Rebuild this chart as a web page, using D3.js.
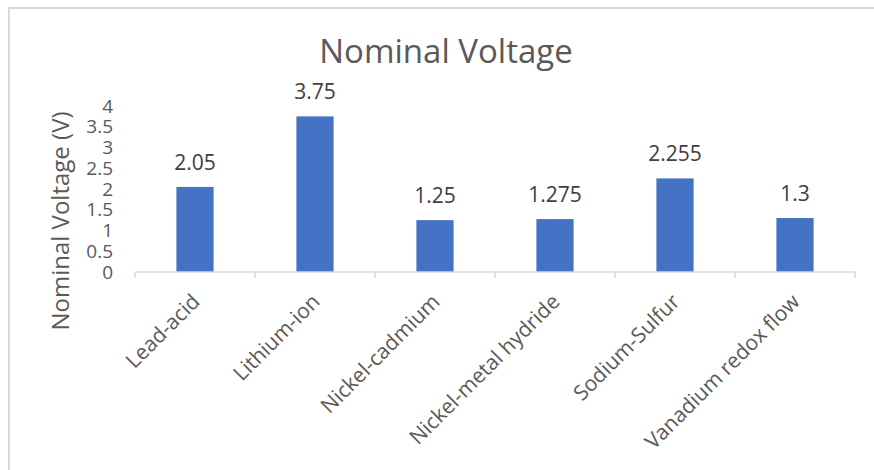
<!DOCTYPE html>
<html><head><meta charset="utf-8">
<script src="https://cdn.jsdelivr.net/npm/d3@7"></script>
<style>body{margin:0;background:#fff;} svg{display:block;font-family:"Open Sans",sans-serif;}</style>
</head><body>
<svg id="c" width="874" height="470"></svg>
<script>
const categories = ["Lead-acid","Lithium-ion","Nickel-cadmium","Nickel-metal hydride","Sodium-Sulfur","Vanadium redox flow"];
const values = [2.05, 3.75, 1.25, 1.275, 2.255, 1.3];
const valueLabels = ["2.05","3.75","1.25","1.275","2.255","1.3"];
const yTicks = [0,0.5,1,1.5,2,2.5,3,3.5,4];
const titleText = "Nominal Voltage";
const yTitle = "Nominal Voltage (V)";

const svg = d3.select("#c");
// outer border
svg.append("path").attr("d","M9,470 V8 H874").attr("fill","none").attr("stroke","#d9d9d9").attr("stroke-width",2);

const x = d3.scaleBand().domain(categories).range([135,855]).paddingInner(0.69).paddingOuter(0.345);
const y = d3.scaleLinear().domain([0,4]).range([272,106]);

svg.append("text").attr("x",446).attr("y",63).attr("text-anchor","middle")
  .attr("font-size",33).attr("fill","#595959").text(titleText);

// y axis labels
const yAxis = d3.axisLeft(y).tickValues(yTicks).tickSize(0).tickPadding(0).tickFormat(d=>String(d));
const ga = svg.append("g").attr("transform","translate(113,0)").call(yAxis);
ga.select(".domain").remove();
ga.selectAll("text").attr("font-size",19).attr("fill","#595959").attr("font-family","Open Sans");

svg.append("text").attr("transform","translate(69,221) rotate(-90)").attr("text-anchor","middle")
  .attr("font-size",24).attr("fill","#595959").text(yTitle);

// bars
svg.selectAll("rect.bar").data(values).join("rect").attr("class","bar")
  .attr("x",(d,i)=>x(categories[i])).attr("width",x.bandwidth())
  .attr("y",d=>y(d)).attr("height",d=>y(0)-y(d)).attr("fill","#4472c4");

// x axis
const xb = d3.scaleBand().domain(categories).range([135,855]);
const gx = svg.append("g").attr("transform","translate(0,272)");
gx.append("line").attr("x1",135).attr("x2",855).attr("y1",0).attr("y2",0).attr("stroke","#d9d9d9").attr("stroke-width",1.5);
const edges = categories.map(c=>xb(c)).concat([855]);
gx.selectAll("line.t").data(edges).join("line").attr("class","t")
  .attr("x1",d=>d).attr("x2",d=>d).attr("y1",0).attr("y2",6).attr("stroke","#d9d9d9").attr("stroke-width",1.5);

svg.selectAll("text.cat").data(categories).join("text").attr("class","cat")
  .attr("transform",d=>`translate(${xb(d)+xb.bandwidth()/2+6},${303}) rotate(-45)`)
  .attr("text-anchor","end").attr("font-size",21).attr("fill","#595959").text(d=>d);

// data labels
svg.selectAll("text.val").data(values).join("text").attr("class","val")
  .attr("x",(d,i)=>x(categories[i])+x.bandwidth()/2).attr("y",d=>y(d)-17)
  .attr("text-anchor","middle").attr("font-size",21).attr("fill","#404040").text((d,i)=>valueLabels[i]);
</script>
</body></html>
